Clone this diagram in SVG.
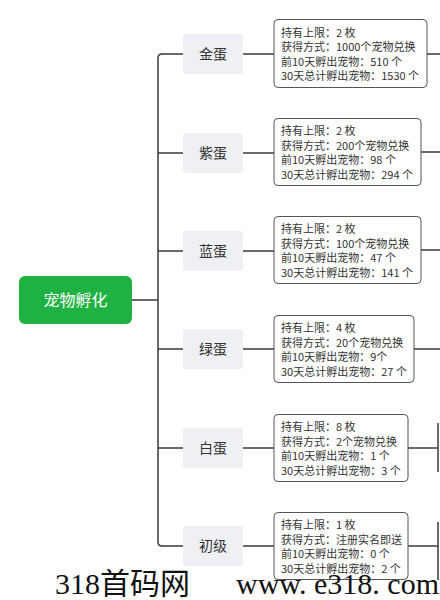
<svg xmlns="http://www.w3.org/2000/svg" width="440" height="600" viewBox="0 0 440 600">
<style>
.ln{fill:none;stroke:#3a3a3a;stroke-width:1.5}
.mid rect{fill:#eef0f3}
.mid text{font-family:"Noto Sans CJK SC","Noto Sans",sans-serif;font-size:14px;fill:#333;text-anchor:middle}
.det rect{fill:#fff;stroke:#555;stroke-width:1}
.det text{font-family:"Noto Sans CJK SC","Noto Sans",sans-serif;font-size:11px;fill:#333}
.wm{font-family:"Liberation Serif","Noto Sans CJK SC",serif;font-size:30px;fill:#111}
</style>
<rect width="440" height="600" fill="#fff"/>
<g id="connectors">
<path class="ln" d="M132 300H158"/>
<path class="ln" d="M183 54H162Q158 54 158 58V542Q158 546 162 546H183"/>
<path class="ln" d="M158 153H183M158 251H183M158 349H183M158 448H183"/>
<path class="ln" d="M243 54H274M243 153H274M243 251H274M243 349H274M243 448H274M243 546H274"/>
<path class="ln" d="M427 54H440M421 152H440M421 250H440M414 349H440M408 448H438M408 546H438"/>
<path class="ln" d="M438 423V472M438 522V580"/>
</g>
<g id="root">
<rect x="19" y="276" width="113" height="48" rx="6" fill="#1fb242"/>
<text x="75.5" y="306" font-family="'Noto Sans CJK SC','Noto Sans',sans-serif" font-size="16" fill="#fff" text-anchor="middle">宠物孵化</text>
</g>
<g id="n1" class="mid"><rect x="183" y="34" width="60" height="40" rx="3"/><text x="213" y="59">金蛋</text></g>
<g id="n2" class="mid"><rect x="183" y="133" width="60" height="40" rx="3"/><text x="213" y="158">紫蛋</text></g>
<g id="n3" class="mid"><rect x="183" y="231" width="60" height="40" rx="3"/><text x="213" y="256">蓝蛋</text></g>
<g id="n4" class="mid"><rect x="183" y="329" width="60" height="40" rx="3"/><text x="213" y="354">绿蛋</text></g>
<g id="n5" class="mid"><rect x="183" y="428" width="60" height="40" rx="3"/><text x="213" y="453">白蛋</text></g>
<g id="n6" class="mid"><rect x="183" y="526" width="60" height="40" rx="3"/><text x="213" y="551">初级</text></g>
<g id="d1" class="det"><rect x="274" y="19.5" width="153" height="68" rx="4"/>
<text x="281" y="36.5">持有上限：2 枚</text><text x="281" y="51">获得方式：1000个宠物兑换</text><text x="281" y="65.5">前10天孵出宠物：510 个</text><text x="281" y="80">30天总计孵出宠物：1530 个</text></g>
<g id="d2" class="det"><rect x="274" y="118.5" width="147" height="67" rx="4"/>
<text x="281" y="135">持有上限：2 枚</text><text x="281" y="149.5">获得方式：200个宠物兑换</text><text x="281" y="164">前10天孵出宠物：98 个</text><text x="281" y="178.5">30天总计孵出宠物：294 个</text></g>
<g id="d3" class="det"><rect x="274" y="216.5" width="147" height="67" rx="4"/>
<text x="281" y="233">持有上限：2 枚</text><text x="281" y="247.5">获得方式：100个宠物兑换</text><text x="281" y="262">前10天孵出宠物：47 个</text><text x="281" y="276.5">30天总计孵出宠物：141 个</text></g>
<g id="d4" class="det"><rect x="274" y="315.5" width="140" height="67" rx="4"/>
<text x="281" y="332">持有上限：4 枚</text><text x="281" y="346.5">获得方式：20个宠物兑换</text><text x="281" y="361">前10天孵出宠物：9个</text><text x="281" y="375.5">30天总计孵出宠物：27 个</text></g>
<g id="d5" class="det"><rect x="274" y="414.5" width="134" height="67" rx="4"/>
<text x="281" y="431">持有上限：8 枚</text><text x="281" y="445.5">获得方式：2个宠物兑换</text><text x="281" y="460">前10天孵出宠物：1 个</text><text x="281" y="474.5">30天总计孵出宠物：3 个</text></g>
<g id="d6" class="det"><rect x="274" y="512.5" width="134" height="67" rx="4"/>
<text x="281" y="529">持有上限：1 枚</text><text x="281" y="543.5">获得方式：注册实名即送</text><text x="281" y="558">前10天孵出宠物：0 个</text><text x="281" y="572.5">30天总计孵出宠物：2 个</text></g>
<text class="wm" x="55" y="594">318首码网</text>
<text class="wm" x="236" y="594">www. e318. com</text>
</svg>
